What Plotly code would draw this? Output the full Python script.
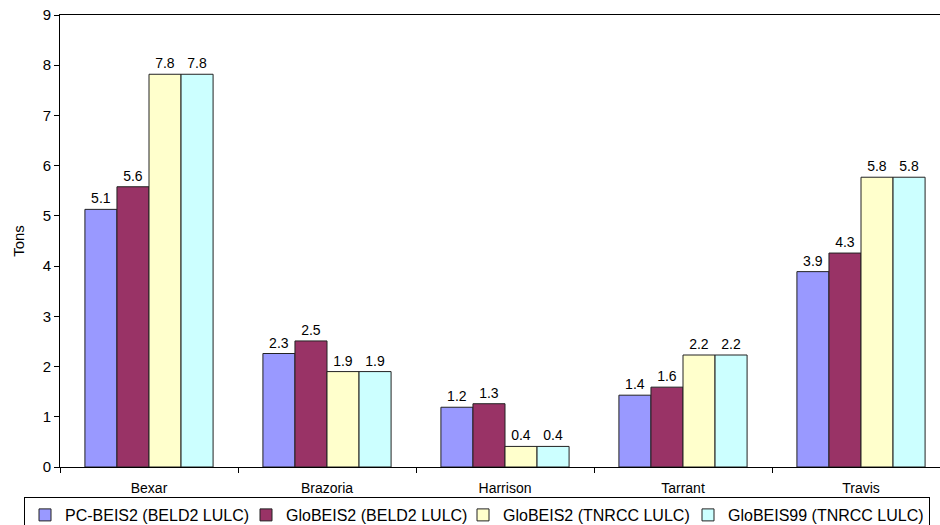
import plotly.graph_objects as go

# County totals (tons) for each emissions model run
counties = ["Bexar", "Brazoria", "Harrison", "Tarrant", "Travis"]

pc_beis2_beld2 = [5.13, 2.26, 1.19, 1.43, 3.89]
globeis2_beld2 = [5.58, 2.51, 1.26, 1.59, 4.26]
globeis2_tnrcc = [7.82, 1.90, 0.41, 2.23, 5.77]
globeis99_tnrcc = [7.82, 1.90, 0.41, 2.23, 5.77]

series_names = [
    "PC-BEIS2 (BELD2 LULC)",
    "GloBEIS2 (BELD2 LULC)",
    "GloBEIS2 (TNRCC LULC)",
    "GloBEIS99 (TNRCC LULC)",
]
series_values = [pc_beis2_beld2, globeis2_beld2, globeis2_tnrcc, globeis99_tnrcc]
series_colors = ["#9999FF", "#993366", "#FFFFCC", "#CCFFFF"]
# legend entry widths (px) so that the four entries fit on one row
legend_widths = [176, 172, 180, None]

y_ticks = list(range(0, 10))

FONT = "Arial, Liberation Sans, sans-serif"
W, H = 940, 525
M_L, M_R, M_T, M_B = 60, 0, 15, 58
plot_w = W - M_L - M_R
plot_h = H - M_T - M_B

fig = go.Figure()
for name, vals, color, lw in zip(series_names, series_values, series_colors, legend_widths):
    fig.add_trace(go.Bar(
        name=name,
        x=counties,
        y=vals,
        marker=dict(color=color, line=dict(color="#222222", width=1)),
        text=vals,
        texttemplate="%{y:.1f}",
        textposition="outside",
        textfont=dict(family=FONT, size=14, color="black"),
        cliponaxis=False,
        hoverinfo="skip",
        legendwidth=lw,
    ))

# each category occupies ~178 px; the last one runs past the right edge
cat_px = 178.0
x_hi = -0.5 + plot_w / cat_px

# legend box: left edge at 24 px, top edge at 497 px (page pixels)
leg_x = (24 - M_L) / plot_w
leg_y = ((H - M_B) - 497) / plot_h

fig.update_layout(
    width=W,
    height=H,
    margin=dict(l=M_L, r=M_R, t=M_T, b=M_B, autoexpand=False),
    paper_bgcolor="white",
    plot_bgcolor="white",
    barmode="group",
    bargap=0.28,
    bargroupgap=0,
    font=dict(family=FONT, size=14, color="black"),
    showlegend=True,
    legend=dict(
        orientation="h",
        x=leg_x,
        xanchor="left",
        y=leg_y,
        yanchor="top",
        bordercolor="black",
        borderwidth=1,
        font=dict(family=FONT, size=16, color="black"),
        itemwidth=30,
        tracegroupgap=0,
    ),
    xaxis=dict(
        range=[-0.5, x_hi],
        showline=True,
        linecolor="black",
        linewidth=1,
        mirror=True,
        ticks="outside",
        tickson="boundaries",
        ticklen=5,
        tickcolor="black",
        showgrid=False,
        zeroline=False,
        tickfont=dict(family=FONT, size=14),
        ticklabelstandoff=8,
        fixedrange=True,
    ),
    yaxis=dict(
        range=[0, 9],
        tickvals=y_ticks,
        showline=True,
        linecolor="black",
        linewidth=1,
        ticks="outside",
        ticklen=5,
        tickcolor="black",
        showgrid=False,
        zeroline=False,
        tickfont=dict(family=FONT, size=15),
        title=dict(text="Tons", font=dict(family=FONT, size=15), standoff=14),
        fixedrange=True,
    ),
)

fig.write_html("out.html")
